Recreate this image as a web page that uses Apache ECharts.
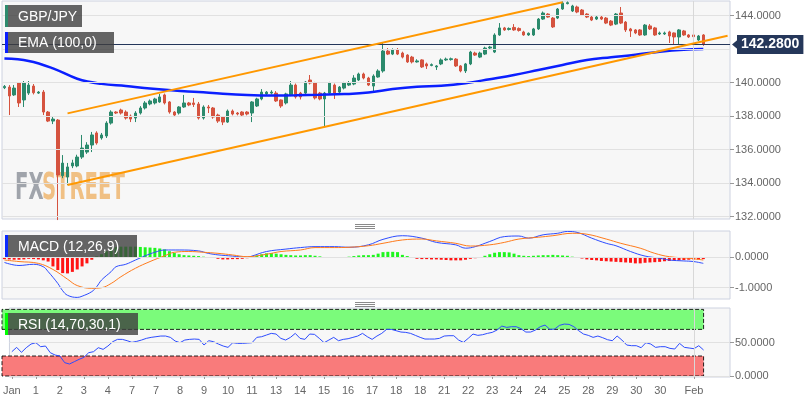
<!DOCTYPE html>
<html><head><meta charset="utf-8">
<script src="https://cdn.jsdelivr.net/npm/echarts@6/dist/echarts.min.js"></script>
<style>html,body{margin:0;padding:0;background:#fff}#c{width:808px;height:403px}</style>
</head><body><div id="c"></div>
<script>
// ---------- data ----------
const tickIdx  = [0,5,10,15,20,25,30,35,40,45,50,55,60,65,70,75,80,85,90,95,100,105,110,115,120,125,130,135,142];
const tickText = ['Jan','1','2','3','4','7','7','8','9','10','11','13','14','15','16','17','18','18','21','22','23','24','24','25','28','29','30','30','Feb'];

const opens = [139.70,139.74,139.27,139.98,138.97,139.38,139.80,139.38,139.44,138.25,
137.71,137.77,134.45,134.37,135.03,135.03,135.56,135.86,136.28,137.00,
136.70,136.82,137.59,138.25,138.37,138.25,138.01,137.89,138.19,138.49,
138.73,138.79,138.85,139.27,138.85,138.25,138.19,138.55,138.79,138.79,
138.73,137.89,138.55,138.49,138.07,137.95,137.65,138.31,138.19,138.25,
138.25,138.19,138.61,139.03,139.33,139.38,139.38,138.97,138.79,139.27,
139.86,139.38,139.38,140.16,139.98,139.38,139.03,139.38,139.86,139.44,
139.68,139.86,139.92,140.16,140.52,140.28,139.80,140.34,140.70,141.89,
141.71,141.95,141.77,141.65,141.53,141.24,141.36,141.12,141.03,140.94,
141.12,141.36,141.38,141.41,141.00,140.70,141.12,141.77,141.53,141.71,
142.07,141.83,142.85,143.27,143.18,143.30,143.24,143.03,142.85,142.85,
143.21,143.80,144.10,143.86,143.86,144.40,144.72,144.28,144.52,144.34,
144.10,143.92,143.80,143.92,143.86,143.68,143.50,144.16,143.62,143.21,
143.15,143.15,142.85,143.39,143.27,142.91,142.91,143.03,142.97,142.73,
143.09,142.85,142.85,142.55,142.85];
const closes = [139.78,139.21,139.68,138.79,139.98,139.86,139.40,139.44,138.25,137.71,
137.83,134.49,135.20,134.97,135.21,135.56,136.10,136.28,136.88,136.40,
136.88,137.59,138.25,138.19,138.19,137.89,137.83,138.19,138.49,138.79,
138.91,139.03,139.15,138.79,138.25,138.07,138.55,138.79,138.67,138.70,
137.89,138.55,138.49,137.95,137.71,137.65,138.31,138.13,138.13,138.07,
138.13,138.85,139.03,139.44,139.44,139.44,138.91,138.61,139.33,139.86,
139.15,139.15,140.04,139.98,139.09,139.03,139.38,139.98,139.38,139.74,
139.98,139.98,140.28,140.52,140.28,139.86,140.40,140.70,141.89,141.71,
141.95,141.71,141.53,141.24,141.24,141.30,140.94,141.00,141.08,141.00,
141.36,141.41,141.43,141.00,140.70,141.12,141.83,141.65,141.77,142.07,
142.13,142.85,143.27,143.15,143.24,143.15,143.12,142.85,142.95,143.21,
143.80,144.16,143.92,143.33,144.40,144.76,144.78,144.58,144.22,144.04,
143.92,143.74,143.92,143.80,143.56,143.44,144.10,143.56,143.15,143.09,
142.97,142.85,143.44,143.21,142.85,142.97,142.97,142.79,142.73,143.15,
142.85,142.73,142.75,142.79,142.28];
const lows = [139.62,138.07,139.21,138.55,138.55,139.27,139.30,139.33,138.07,137.65,
137.53,131.80,134.30,133.89,134.90,134.95,135.45,135.75,135.86,136.30,
136.60,136.70,137.50,138.13,138.10,137.80,137.65,137.65,138.10,138.40,
138.65,138.70,138.80,138.70,138.15,137.95,138.10,138.50,138.60,138.55,
137.80,137.80,138.19,137.85,137.60,137.47,137.60,138.05,138.05,138.00,
138.05,137.65,138.55,138.95,139.25,139.30,138.85,138.50,138.70,139.20,
139.05,139.00,139.30,139.90,139.00,138.95,137.36,139.30,139.03,139.38,
139.60,139.80,139.85,140.10,140.20,139.80,139.44,140.30,140.60,141.65,
141.65,141.65,141.45,141.18,141.15,141.20,140.88,140.82,140.98,140.76,
141.05,141.30,141.32,140.94,140.62,140.58,141.05,141.60,141.47,141.65,
142.00,141.77,142.80,143.10,143.12,143.10,143.05,142.80,142.80,142.79,
143.15,143.75,143.88,143.27,143.80,144.35,144.68,144.22,144.15,143.98,
143.86,143.68,143.74,143.74,143.50,143.38,143.44,143.50,143.03,142.73,
142.90,142.80,142.80,143.15,142.80,142.85,142.85,142.37,142.31,142.25,
142.80,142.67,142.49,142.50,142.20];
const highs = [139.86,139.86,139.86,140.04,140.10,140.10,139.92,139.50,139.56,138.31,
137.95,137.83,135.68,135.21,135.40,135.70,136.88,136.45,137.06,137.10,
137.00,137.70,138.35,138.30,138.45,138.35,138.10,138.30,138.60,138.90,
139.00,139.10,139.33,139.35,138.90,138.30,138.60,139.27,138.85,139.09,
138.85,138.65,138.67,138.55,138.15,138.00,138.40,138.40,138.25,138.30,
138.30,138.90,139.10,139.62,139.50,139.55,139.50,139.00,139.40,140.10,
139.95,139.45,140.10,140.46,140.05,139.45,139.45,140.05,139.95,139.80,
140.05,140.10,140.45,140.60,140.60,140.35,140.50,140.80,142.37,142.07,
142.05,142.07,141.85,141.70,141.60,141.40,141.40,141.20,141.15,141.05,
141.45,141.50,141.50,141.47,141.05,141.18,141.90,141.85,141.85,142.15,
142.20,142.95,143.56,143.33,143.30,143.50,143.30,143.10,143.00,143.27,
143.86,144.25,144.15,143.92,144.46,144.85,144.85,144.65,144.60,144.40,
144.15,143.98,143.98,143.98,143.92,143.74,144.16,144.52,143.68,143.27,
143.20,143.20,143.50,143.50,143.33,143.05,143.05,143.10,143.00,143.20,
143.15,142.90,142.90,142.85,142.90];

// EMA(100) readings [candle index, value]
const emaPts = [[0,141.44],[5,141.30],[10,140.86],[15,140.24],[20,139.93],[25,139.80],[30,139.65],[35,139.53],[40,139.44],[45,139.34],[50,139.27],[55,139.24],[60,139.25],[65,139.28],[70,139.32],[75,139.41],[80,139.62],[85,139.76],[90,139.82],[95,139.97],[100,140.21],[105,140.46],[110,140.76],[115,141.06],[120,141.36],[125,141.52],[130,141.67],[135,141.85],[140,141.97],[144,142.01]];

// channel lines [candle index, price]
const upperChannel = [[13,138.17],[115,144.80]];
const lowerChannel = [[13,133.89],[149,142.80]];

// MACD (12,26,9)
const macdPts = [[0,-0.17],[3,-0.27],[6,-0.23],[8,-0.31],[9,-0.47],[11,-0.86],[12,-1.10],[13,-1.25],[15,-1.32],[16,-1.28],[18,-1.13],[19,-0.97],[20,-0.75],[22,-0.47],[23,-0.31],[25,-0.23],[27,-0.09],[29,0.05],[31,0.165],[33,0.24],[36,0.24],[40,0.21],[42,0.13],[44,0.08],[47,0.04],[50,0.0],[51,0.04],[54,0.19],[58,0.27],[61,0.32],[64,0.35],[68,0.35],[71,0.33],[75,0.41],[78,0.59],[82,0.71],[86,0.63],[89,0.49],[93,0.41],[95,0.30],[97,0.35],[100,0.52],[103,0.68],[106,0.70],[108,0.63],[111,0.74],[114,0.79],[116,0.85],[118,0.82],[121,0.63],[124,0.46],[126,0.38],[129,0.19],[132,0.04],[135,-0.03],[137,-0.09],[140,-0.12],[142,-0.14],[144,-0.20]];
const signalPts = [[0,-0.09],[3,-0.14],[7,-0.20],[10,-0.40],[13,-0.72],[15,-0.93],[18,-1.02],[20,-1.0],[22,-0.86],[24,-0.64],[27,-0.36],[30,-0.14],[33,0.05],[35,0.165],[38,0.19],[41,0.165],[44,0.13],[47,0.077],[50,0.02],[54,0.10],[57,0.19],[61,0.24],[64,0.32],[68,0.32],[71,0.33],[75,0.38],[78,0.46],[82,0.57],[86,0.60],[89,0.54],[93,0.46],[96,0.37],[100,0.41],[103,0.49],[106,0.60],[110,0.66],[113,0.71],[117,0.79],[120,0.76],[124,0.60],[127,0.46],[131,0.30],[134,0.13],[137,0.02],[141,-0.03],[144,-0.09]];
const macdHist = [
-0.06,-0.07,-0.08,-0.08,-0.07,-0.05,-0.06,-0.07,-0.10,-0.14,
-0.30,-0.42,-0.52,-0.53,-0.48,-0.40,-0.30,-0.20,-0.08,0.03,
0.10,0.20,0.28,0.33,0.35,0.35,0.35,0.35,0.34,0.33,
0.32,0.31,0.29,0.26,0.20,0.14,0.10,0.07,0.06,0.05,
0.04,0.02,0.01,-0.02,-0.05,-0.07,-0.07,-0.06,-0.06,-0.05,
-0.03,0.02,0.06,0.10,0.13,0.14,0.12,0.10,0.08,0.07,
0.06,0.06,0.07,0.07,0.05,0.03,0.01,0.01,0.00,0.00,
0.01,0.02,0.04,0.06,0.07,0.07,0.08,0.12,0.17,0.18,
0.18,0.17,0.08,0.04,-0.02,-0.05,-0.06,-0.06,-0.07,-0.07,
-0.08,-0.09,-0.10,-0.10,-0.10,-0.08,-0.05,-0.03,-0.01,0.05,
0.10,0.15,0.17,0.17,0.16,0.12,0.07,0.05,0.04,0.05,
0.06,0.07,0.07,0.08,0.07,0.06,0.05,0.02,-0.01,-0.04,
-0.07,-0.09,-0.10,-0.12,-0.13,-0.14,-0.15,-0.16,-0.17,-0.18,
-0.20,-0.20,-0.18,-0.17,-0.16,-0.15,-0.13,-0.12,-0.11,-0.10,
-0.09,-0.08,-0.07,-0.07,-0.06];

// RSI (14)
const rsi = [
36.5,43,35.5,42.5,48,50,44,45,35,31.5,
30,20,18,21.5,25,28,35,36.5,42.5,40,
45,51.5,55,55,53,50.5,52,54,56.5,58,
59,60,60,58,52.5,50,54,55,55.5,55,
46.5,53,51.5,48,45,43,50,49,49,49.5,
50,58,59,61.5,64,63,56.5,54,58,64,
56.5,55,63,62.5,56.5,50,54,58,53,55,
56,58,60,64,59,55,60,64,70,70,
68,66,65.5,64,61,58,55.5,55.5,55.5,56.5,
60,60.5,60.5,54,50.5,56.5,63,61,62,64,
65.5,69,75,73,74,74,71,66,66,69,
74,76.5,70,70.5,76,78,77.5,74,68,63,
61,58,60,57.5,54.5,53,60,54,46.5,45.5,
45.5,42.5,50,48,43,44,44,41.5,40.5,49,
43,42,41,45.5,39];

const priceTicks = [132,134,136,138,140,144];
const priceGrid = [132,134,136,138,140,142,144];
const macdTicks = [0,-1];
const rsiTicks = [0,50];
const rsiOverbought = [70,100];
const rsiOversold = [30,0];
const lastPrice = closes[closes.length-1];

// ---------- chart ----------
const N = 150;
const cats = Array.from({length:N}, (_, i) => String(i));
const tickMap = {}; tickIdx.forEach((k,j) => { tickMap[k] = tickText[j]; });
const candles = opens.map((o,i) => [o, closes[i], lows[i], highs[i]]);
const lastIdx = String(closes.length-1);

const FONT = 'Liberation Sans';
const gridStyle = {show:true, backgroundColor:'#f7f7f7', borderColor:'#cdd2e0', borderWidth:1};
const L = 2, R = 78;

function xAx(i, show){
  return {type:'category', gridIndex:i, data:cats, boundaryGap:true,
    axisLine:{show:false},
    axisTick:{show:show, interval:(idx)=> (idx in tickMap), alignWithLabel:true, length:3, lineStyle:{color:'#9a9a9a'}},
    axisLabel:{show:show, interval:(idx)=> (idx in tickMap), formatter:(v, idx)=> tickMap[idx] || '', color:'#666', fontSize:11, fontFamily:FONT, margin:8},
    splitLine:{show:false}};
}
function yAx(i, min, max, ticks){
  return {type:'value', gridIndex:i, position:'right', min:min, max:max,
    axisLine:{show:false},
    axisTick:{show:true, length:4, lineStyle:{color:'#999'}, customValues:ticks},
    axisLabel:{show:true, customValues:ticks, formatter:(v)=> v.toFixed(4), color:'#666', fontSize:11, fontFamily:FONT, margin:5},
    splitLine:{show:false}};
}
function bg(i, vals){
  return {type:'line', xAxisIndex:i, yAxisIndex:i, data:[], silent:true, z:1,
    markLine:{silent:true, symbol:['none','none'], animation:false, label:{show:false},
      lineStyle:{color:'#e1e1e1', width:1, type:'solid'},
      data: vals.map(v => ({yAxis:v})).concat([{xAxis:'142', lineStyle:{color:'#d8d8d8', width:1, type:'solid'}}])}};
}

const option = {
  animation:false,
  backgroundColor:'#ffffff',
  textStyle:{fontFamily:FONT},
  grid:[
    Object.assign({left:L, right:R, top:1, height:218}, gridStyle),
    Object.assign({left:L, right:R, top:231, height:68}, gridStyle),
    Object.assign({left:L, right:R, top:308, height:69}, gridStyle)
  ],
  xAxis:[xAx(0,false), xAx(1,false), xAx(2,true)],
  yAxis:[yAx(0,131.863,144.878,priceTicks), yAx(1,-1.372,0.865,macdTicks), yAx(2,-1.5,102.1,rsiTicks)],
  series:[
    bg(0, priceGrid), bg(1, macdTicks), bg(2, rsiTicks),
    {type:'candlestick', xAxisIndex:0, yAxisIndex:0, data:candles, barWidth:3, z:3,
      itemStyle:{color:'#2b8a6c', color0:'#d5533f', borderColor:'#2b8a6c', borderColor0:'#d5533f', borderWidth:1},
      markLine:{silent:true, symbol:['none','none'], animation:false,
        lineStyle:{color:'#24365a', width:1, type:'solid'},
        label:{show:true, position:'end', distance:7, formatter: lastPrice.toFixed(4), color:'#fff', fontWeight:'bold', fontSize:14, fontFamily:FONT, backgroundColor:'#25375a', padding:[3,4,2,4]},
        data:[{yAxis:lastPrice}]}},
    {type:'line', xAxisIndex:0, yAxisIndex:0, data:emaPts, smooth:0.4, showSymbol:false, z:4, lineStyle:{color:'#0b1fff', width:2.5}},
    {type:'line', xAxisIndex:0, yAxisIndex:0, data:upperChannel, showSymbol:false, z:5, lineStyle:{color:'#ff9800', width:2}},
    {type:'line', xAxisIndex:0, yAxisIndex:0, data:lowerChannel, showSymbol:false, z:5, lineStyle:{color:'#ff9800', width:2}},
    {type:'bar', xAxisIndex:1, yAxisIndex:1, data:macdHist, barWidth:3, z:2,
      itemStyle:{color:(p)=> p.value >= 0 ? '#1ef51e' : '#ff1414'}},
    {type:'line', xAxisIndex:1, yAxisIndex:1, data:macdPts, smooth:0.4, showSymbol:false, z:4, lineStyle:{color:'#2d4cff', width:1}},
    {type:'line', xAxisIndex:1, yAxisIndex:1, data:signalPts, smooth:0.4, showSymbol:false, z:4, lineStyle:{color:'#ff7b1c', width:1}},
    {type:'line', xAxisIndex:2, yAxisIndex:2, data:rsi, showSymbol:false, z:4, lineStyle:{color:'#2d4cff', width:1},
      markArea:{silent:true,
        itemStyle:{borderColor:'rgba(0,0,0,0.85)', borderWidth:1, borderType:'dashed'},
        data:[
          [{x:L, yAxis:rsiOverbought[0], itemStyle:{color:'#7bfb7b'}}, {xAxis:lastIdx, yAxis:rsiOverbought[1]}],
          [{x:L, yAxis:rsiOversold[0], itemStyle:{color:'#f97b7b'}}, {xAxis:lastIdx, yAxis:rsiOversold[1]}]
        ]}}
  ]
};

function tag(x, y, w, h, bar, text){
  return [
    {type:'rect', z:100, shape:{x:x, y:y, width:w, height:h}, style:{fill:'rgba(62,62,62,0.8)'}},
    {type:'rect', z:101, shape:{x:x, y:y, width:3, height:h}, style:{fill:bar}},
    {type:'text', z:101, x:x+13, y:y+h/2+1, style:{text:text, fill:'#ffffff', font:'14px "Liberation Sans"', verticalAlign:'middle', align:'left'}}
  ];
}
function sep(cx, y0){
  const out = [];
  for (let k = 0; k < 3; k++) out.push({type:'line', z:100, shape:{x1:cx-10, y1:y0+2*k+0.5, x2:cx+10, y2:y0+2*k+0.5}, style:{stroke:'#8a8a8a', lineWidth:1}});
  return out;
}

const chart = echarts.init(document.getElementById('c'), null, {renderer:'canvas'});
chart.setOption(option);

const yLast = chart.convertToPixel({yAxisIndex:0}, lastPrice);
const xEnd = 808 - R;
const graphics = [].concat(
  [{type:'text', z:1, x:15, y:189, scaleX:0.53, style:{text:'FX', fill:'#a0a4ab', font:'bold 37px "DejaVu Sans"', verticalAlign:'middle'}},
   {type:'text', z:1, x:42, y:189, scaleX:0.53, style:{text:'STREET', fill:'#f0c084', font:'bold 37px "DejaVu Sans"', verticalAlign:'middle'}}],
  tag(5, 5, 77, 22, '#2e8b6e', 'GBP/JPY'),
  tag(5, 32, 109, 21, '#0b1fff', 'EMA (100,0)'),
  tag(5, 235, 132, 22, '#0b2bff', 'MACD (12,26,9)'),
  tag(5, 313, 133, 22, '#00ff00', 'RSI (14,70,30,1)'),
  sep(365, 224), sep(365, 302),
  [{type:'polygon', z:100, shape:{points:[[xEnd+2, yLast],[xEnd+8, yLast-5],[xEnd+8, yLast+5]]}, style:{fill:'#25375a'}}]
);
chart.setOption({graphic:graphics});
</script>
</body></html>
